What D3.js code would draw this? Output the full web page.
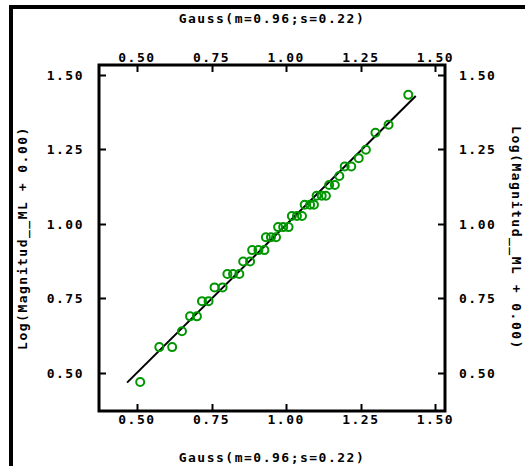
<!DOCTYPE html>
<html>
<head>
<meta charset="utf-8">
<script src="https://cdn.jsdelivr.net/npm/d3@7"></script>
<style>
  body { margin: 0; background: #fff; }
  text { font-family: "DejaVu Sans Mono", monospace; font-weight: bold; font-size: 13px; letter-spacing: 1.5px; fill: #000; }
</style>
</head>
<body>
<script>
// Gauss quantiles (x) vs log magnitude (y)
var gaussQ = [0.511, 0.575, 0.618, 0.651, 0.678, 0.701, 0.718, 0.740, 0.760, 0.787,
              0.803, 0.822, 0.843, 0.856, 0.879, 0.886, 0.907, 0.927, 0.932, 0.949,
              0.966, 0.973, 0.990, 1.008, 1.019, 1.036, 1.053, 1.062, 1.080, 1.093,
              1.102, 1.119, 1.133, 1.144, 1.163, 1.178, 1.196, 1.218, 1.243, 1.267,
              1.299, 1.343, 1.409];
var logMag = [0.470, 0.587, 0.587, 0.640, 0.690, 0.690, 0.741, 0.741, 0.787, 0.787,
              0.832, 0.832, 0.832, 0.874, 0.874, 0.912, 0.912, 0.912, 0.955, 0.955,
              0.955, 0.989, 0.989, 0.989, 1.026, 1.026, 1.026, 1.064, 1.064, 1.064,
              1.094, 1.094, 1.094, 1.130, 1.130, 1.160, 1.192, 1.192, 1.220, 1.248,
              1.305, 1.332, 1.432];
// fitted reference line
var fitX = [0.467, 1.434];
var fitY = [0.468, 1.428];

var ticks = [0.50, 0.75, 1.00, 1.25, 1.50];
var xTitle = 'Gauss(m=0.96;s=0.22)';
var yTitle = 'Log(Magnitud__ML + 0.00)';

var W = 525, H = 466;
var box = { left: 99, right: 445, top: 65, bottom: 411 };

var svg = d3.select('body').append('svg')
    .attr('width', W)
    .attr('height', H);

// outer frame (only top and left edges visible)
svg.append('rect').attr('x', 9).attr('y', 5).attr('width', W - 9).attr('height', 4).attr('fill', '#000');
svg.append('rect').attr('x', 9).attr('y', 5).attr('width', 4).attr('height', H - 5).attr('fill', '#000');

var xs = d3.scaleLinear().domain([0.373, 1.532]).range([box.left, box.right]);
var ys = d3.scaleLinear().domain([0.373, 1.532]).range([box.bottom, box.top]);

var tickLen = 7;
var g = svg.append('g');

// ticks, all pointing into the box
ticks.forEach(function (t) {
    var x = Math.round(xs(t)) + 0.5;
    var y = Math.round(ys(t)) + 0.5;
    g.append('line').attr('x1', x).attr('x2', x).attr('y1', box.bottom).attr('y2', box.bottom - tickLen);
    g.append('line').attr('x1', x).attr('x2', x).attr('y1', box.top).attr('y2', box.top + tickLen);
    g.append('line').attr('y1', y).attr('y2', y).attr('x1', box.left).attr('x2', box.left + tickLen);
    g.append('line').attr('y1', y).attr('y2', y).attr('x1', box.right).attr('x2', box.right - tickLen);
});
g.selectAll('line').attr('stroke', '#000').attr('stroke-width', 2);

g.append('rect')
    .attr('x', box.left).attr('y', box.top)
    .attr('width', box.right - box.left).attr('height', box.bottom - box.top)
    .attr('fill', 'none').attr('stroke', '#000').attr('stroke-width', 3);

// tick labels
var fmt = d3.format('.2f');
ticks.forEach(function (t) {
    g.append('text').attr('x', xs(t)).attr('y', 62).attr('text-anchor', 'middle').text(fmt(t));
    g.append('text').attr('x', xs(t)).attr('y', 424).attr('text-anchor', 'middle').text(fmt(t));
    g.append('text').attr('x', 84).attr('y', ys(t) + 5).attr('text-anchor', 'end').text(fmt(t));
    g.append('text').attr('x', 459).attr('y', ys(t) + 5).attr('text-anchor', 'start').text(fmt(t));
});

// axis titles
var cx = (box.left + box.right) / 2;
var cy = (box.top + box.bottom) / 2;
g.append('text').attr('x', cx).attr('y', 23).attr('text-anchor', 'middle').text(xTitle);
g.append('text').attr('x', cx).attr('y', 462).attr('text-anchor', 'middle').text(xTitle);
g.append('text').attr('transform', 'translate(27,' + cy + ') rotate(-90)').attr('text-anchor', 'middle').text(yTitle);
g.append('text').attr('transform', 'translate(512,' + cy + ') rotate(90)').attr('text-anchor', 'middle').text(yTitle);

// fit line
var line = d3.line().x(function (d) { return xs(d[0]); }).y(function (d) { return ys(d[1]); });
g.append('path')
    .datum(d3.zip(fitX, fitY))
    .attr('d', line)
    .attr('fill', 'none')
    .attr('stroke', '#000')
    .attr('stroke-width', 2);

// points
g.selectAll('circle.pt')
    .data(d3.zip(gaussQ, logMag))
    .enter().append('circle')
    .attr('class', 'pt')
    .attr('cx', function (d) { return xs(d[0]); })
    .attr('cy', function (d) { return ys(d[1]); })
    .attr('r', 4)
    .attr('fill', 'none')
    .attr('stroke', '#009600')
    .attr('stroke-width', 2);
</script>
</body>
</html>
